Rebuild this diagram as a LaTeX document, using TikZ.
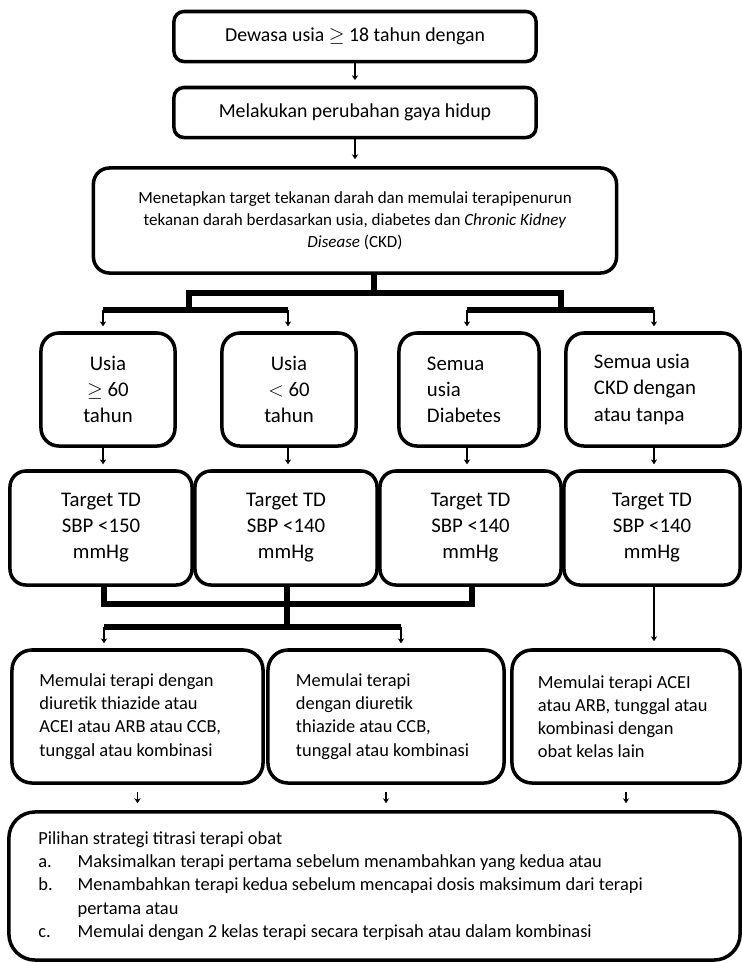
\documentclass[tikz,border=0pt]{standalone}
\usepackage{fontspec}
\setmainfont{Carlito}
\usetikzlibrary{arrows.meta}
\usepackage{amsmath}
\usepackage{amssymb}
\newcommand{\optlabel}[1]{\makebox[0.98cm][l]{#1}}

\begin{document}
\begin{tikzpicture}[x=0.025cm, y=-0.025cm,
    >={Stealth[length=3.5pt,width=4.5pt]},
    flowbox/.style={draw, line width=2.5pt, rounded corners=0.45cm, inner sep=0pt, align=center},
    headbox/.style={flowbox, rounded corners=0.25cm, minimum width=9.05cm, minimum height=1.25cm, font=\fontsize{14.1}{17}\selectfont},
    agebox/.style={flowbox, minimum height=2.825cm, font=\fontsize{14.8}{18.5}\selectfont},
    tdbox/.style={flowbox, rounded corners=0.4cm, minimum height=2.85cm, font=\fontsize{14.8}{18.5}\selectfont},
    drugbox/.style={flowbox, rounded corners=0.5cm, minimum height=3.325cm, align=flush left, font=\fontsize{13.1}{16.5}\selectfont},
    thickbar/.style={line width=3.8pt},
    arr/.style={->, line width=1.3pt, shorten >=3.5pt}]
  \useasboundingbox (0,0) rectangle (742,962);

  \node[headbox] (adult) at (355,36.5) {Dewasa usia $\geq$ 18 tahun dengan};
  \node[headbox] (life) at (355,112.5) {Melakukan perubahan gaya hidup};
  \node[flowbox, rounded corners=0.4cm, minimum width=13.075cm, minimum height=2.625cm, font=\fontsize{12.1}{15.6}\selectfont] (goal) at (355,220.5)
    {Menetapkan target tekanan darah dan memulai terapipenurun\\tekanan darah berdasarkan usia, diabetes dan \textit{Chronic Kidney}\\\textit{Disease} (CKD)};

  \node[agebox, minimum width=3.35cm] (old) at (108,389.5) {Usia\\$\geq$ 60\\tahun};
  \node[agebox, minimum width=3.35cm] (young) at (289,389.5) {Usia\\$<$ 60\\tahun};
  \node[agebox, minimum width=3.5cm, text width=2.1cm, align=flush left] (diab) at (469,389.5) {Semua\\usia\\Diabetes};
  \node[agebox, minimum width=4.35cm, text width=2.95cm, align=flush left] (ckd) at (653,389.5) {Semua usia\\CKD dengan\\atau tanpa};

  \node[tdbox, minimum width=4.55cm] (td1) at (101,528) {Target TD\\SBP <150\\mmHg};
  \node[tdbox, minimum width=4.55cm] (td2) at (286,528) {Target TD\\SBP <140\\mmHg};
  \node[tdbox, minimum width=4.525cm] (td3) at (470.5,528) {Target TD\\SBP <140\\mmHg};
  \node[tdbox, minimum width=4.4cm] (td4) at (652,528) {Target TD\\SBP <140\\mmHg};

  \node[drugbox, minimum width=6.275cm, text width=4.9cm] (drug1) at (137.5,716.5) {Memulai terapi dengan\\diuretik thiazide atau\\ACEI atau ARB atau CCB,\\tunggal atau kombinasi};
  \node[drugbox, minimum width=5.9cm, text width=4.5cm] (drug2) at (386,716.5) {Memulai terapi\\dengan diuretik\\thiazide atau CCB,\\tunggal atau kombinasi};
  \node[drugbox, minimum width=5.7cm, text width=4.4cm] (drug3) at (626,716.5) {Memulai terapi ACEI\\atau ARB, tunggal atau\\kombinasi dengan\\obat kelas lain};

  \node[flowbox, rounded corners=0.65cm, minimum width=18.275cm, minimum height=3.7cm, text width=16.8cm, align=flush left, font=\fontsize{13.1}{16.5}\selectfont] (titr) at (374.5,886)
    {Pilihan strategi titrasi terapi obat\\
     \optlabel{a.}Maksimalkan terapi pertama sebelum menambahkan yang kedua atau\\
     \optlabel{b.}Menambahkan terapi kedua sebelum mencapai dosis maksimum dari terapi\\
     \optlabel{}pertama atau\\
     \optlabel{c.}Memulai dengan 2 kelas terapi secara terpisah atau dalam kombinasi};

  \draw[arr, shorten >=4pt] (adult) -- (life);
  \draw[arr, shorten >=5pt] (life) -- (goal);

  \coordinate (split) at (374,293);
  \coordinate (splitl) at (189,293);
  \coordinate (splitr) at (561,293);
  \coordinate (c1) at (103,310);
  \coordinate (c2) at (288,310);
  \coordinate (c3) at (467,310);
  \coordinate (c4) at (654,310);
  \draw[thickbar] (goal.south -| split) -- (split);
  \draw[thickbar] (splitl |- c1) -- (splitl) -- (splitr) -- (splitr |- c1);
  \draw[thickbar] (c1) -- (c2);
  \draw[thickbar] (c3) -- (c4);
  \draw[arr] (c1) -- (c1 |- old.north);
  \draw[arr] (c2) -- (c2 |- young.north);
  \draw[arr] (c3) -- (c3 |- diab.north);
  \draw[arr] (c4) -- (c4 |- ckd.north);

  \draw[arr] (c1 |- old.south) -- (c1 |- td1.north);
  \draw[arr] (c2 |- young.south) -- (c2 |- td2.north);
  \draw[arr] (c3 |- diab.south) -- (c3 |- td3.north);
  \draw[arr] (c4 |- ckd.south) -- (c4 |- td4.north);

  \coordinate (m1) at (104,604);
  \coordinate (m3) at (472,604);
  \coordinate (merge) at (287,627);
  \coordinate (n1) at (104,627);
  \coordinate (n2) at (401,627);
  \draw[thickbar] (td1.south -| m1) -- (m1) -- (m3) -- (td3.south -| m3);
  \draw[thickbar] (td2.south -| merge) -- (merge);
  \draw[thickbar] (n1) -- (n2);
  \draw[arr] (n1) -- (n1 |- drug1.north);
  \draw[arr] (n2) -- (n2 |- drug2.north);
  \draw[arr, shorten >=5pt] (td4.south -| c4) -- (c4 |- drug3.north);

  \draw[arr, shorten <=5pt, shorten >=5pt] (drug1) -- (drug1 |- titr.north);
  \draw[arr, shorten <=5pt, shorten >=5pt] (drug2) -- (drug2 |- titr.north);
  \draw[arr, shorten <=5pt, shorten >=5pt] (drug3) -- (drug3 |- titr.north);
\end{tikzpicture}
\end{document}
